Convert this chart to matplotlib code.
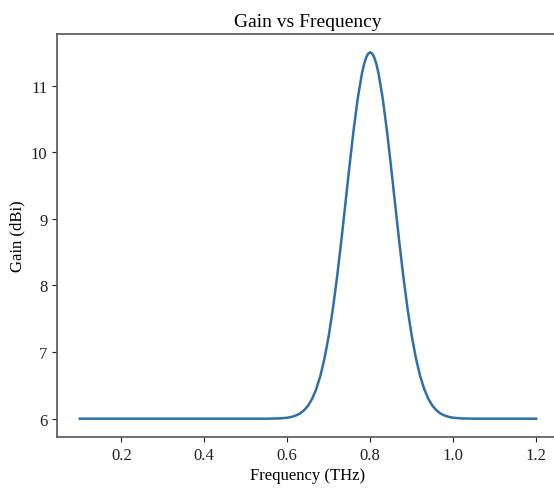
import matplotlib
matplotlib.use("Agg")
import matplotlib.pyplot as plt

plt.rcParams['font.family'] = ['Liberation Serif', 'DejaVu Serif']

freq = [0.10, 0.20, 0.30, 0.40, 0.50, 0.55, 0.58,
        0.60, 0.61, 0.62, 0.63, 0.64, 0.65, 0.66, 0.67, 0.68, 0.69,
        0.70, 0.71, 0.72, 0.73, 0.74, 0.75, 0.76, 0.77, 0.78, 0.785, 0.79, 0.795,
        0.80, 0.805, 0.81, 0.815, 0.82, 0.83, 0.84, 0.85, 0.86, 0.87, 0.88, 0.89,
        0.90, 0.91, 0.92, 0.93, 0.94, 0.95, 0.96, 0.97, 0.98, 0.99,
        1.00, 1.02, 1.05, 1.10, 1.20]
gain = [6.000, 6.000, 6.000, 6.000, 6.000, 6.000, 6.004,
        6.014, 6.026, 6.045, 6.075, 6.123, 6.194, 6.299, 6.446, 6.647, 6.911,
        7.244, 7.650, 8.125, 8.655, 9.221, 9.793, 10.336, 10.811, 11.183, 11.319, 11.419, 11.480,
        11.500, 11.480, 11.419, 11.319, 11.183, 10.811, 10.336, 9.793, 9.221, 8.655, 8.125, 7.650,
        7.244, 6.911, 6.647, 6.446, 6.299, 6.194, 6.123, 6.075, 6.045, 6.026,
        6.014, 6.004, 6.000, 6.000, 6.000]

xticks = [0.2, 0.4, 0.6, 0.8, 1.0, 1.2]
yticks = [6, 7, 8, 9, 10, 11]

fig = plt.figure(figsize=(5.54, 4.89), dpi=100)
ax = fig.add_axes([57/554, 51/489, (559-57)/554, (454-51)/489])
ax.plot(freq, gain, color='#2f6fa8', linewidth=1.8, solid_joinstyle='round')
ax.set_xticks(xticks)
ax.set_xticklabels([f"{t:.1f}" for t in xticks])
ax.set_yticks(yticks)
ax.tick_params(labelsize=12, colors='#222222')
for s in ax.spines.values():
    s.set_color('#555555')
    s.set_linewidth(1.2)
ax.set_title("Gain vs Frequency", fontsize=14, pad=6)
ax.set_xlabel("Frequency (THz)", fontsize=12, labelpad=3)
ax.set_ylabel("Gain (dBi)", fontsize=12)
fig.savefig("out.png", dpi=100)
